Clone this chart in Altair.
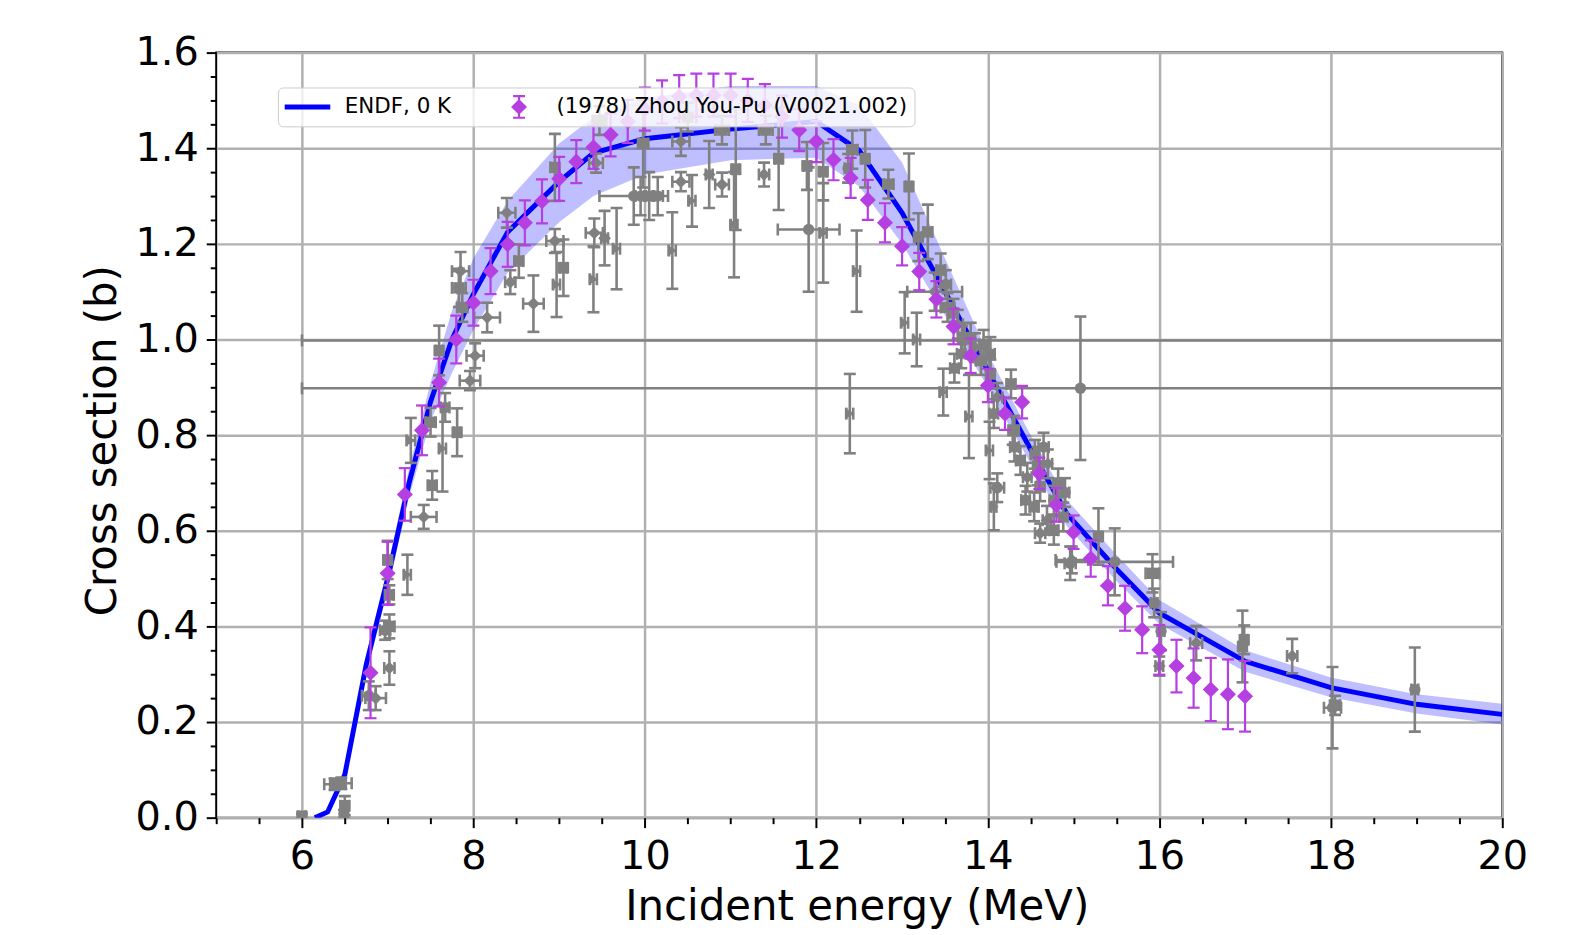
import altair as alt
import pandas as pd

# ---------------- ENDF evaluation: line and uncertainty band ----------------
endf_e = [6.15, 6.3, 6.5, 6.75, 7.0, 7.25, 7.5, 7.75, 8.0, 8.4, 9.0, 9.4, 10.0, 11.0,
          12.0, 12.5, 13.0, 13.5, 14.0, 14.5, 14.92, 15.5, 16.0, 17.0, 18.0, 19.0, 20.0]
endf_xs = [0.0, 0.012, 0.09, 0.32, 0.50, 0.70, 0.87, 1.0, 1.095, 1.225, 1.33, 1.39, 1.42, 1.44,
           1.456, 1.395, 1.265, 1.10, 0.935, 0.77, 0.636, 0.52, 0.428, 0.327, 0.272, 0.237, 0.216]
endf_lo = [0.0, 0.008, 0.078, 0.30, 0.475, 0.67, 0.83, 0.93, 1.02, 1.14, 1.245, 1.30, 1.345, 1.375,
           1.38, 1.32, 1.20, 1.05, 0.90, 0.74, 0.61, 0.495, 0.405, 0.305, 0.252, 0.218, 0.195]
endf_hi = [0.0, 0.016, 0.10, 0.34, 0.525, 0.73, 0.91, 1.06, 1.17, 1.29, 1.41, 1.465, 1.505, 1.53,
           1.53, 1.49, 1.37, 1.17, 0.97, 0.80, 0.665, 0.55, 0.455, 0.35, 0.293, 0.258, 0.238]

# ---------------- (1978) Zhou You-Pu (V0021.002) ----------------
zhou_e = [6.8, 7.0, 7.2, 7.4, 7.6, 7.8, 8.0, 8.2, 8.4, 8.6, 8.8, 9.0, 9.2, 9.4, 9.6, 9.8,
          10.0, 10.2, 10.4, 10.6, 10.8, 11.0, 11.2, 11.4, 11.6, 11.8, 12.0, 12.2, 12.4, 12.6,
          12.8, 13.0, 13.2, 13.4, 13.6, 13.8, 14.0, 14.2, 14.4, 14.6, 14.8, 15.0, 15.2, 15.4,
          15.6, 15.8, 16.0, 16.2, 16.4, 16.6, 16.8, 17.0]
zhou_xs = [0.303, 0.511, 0.676, 0.81, 0.91, 1.0, 1.077, 1.143, 1.199, 1.244, 1.289, 1.336,
           1.372, 1.402, 1.428, 1.456, 1.482, 1.497, 1.508, 1.511, 1.511, 1.511, 1.50, 1.49,
           1.466, 1.438, 1.414, 1.376, 1.338, 1.292, 1.244, 1.195, 1.142, 1.084, 1.027, 0.966,
           0.904, 0.845, 0.869, 0.72, 0.654, 0.597, 0.542, 0.485, 0.438, 0.393, 0.351, 0.317,
           0.292, 0.268, 0.258, 0.254]
zhou_dxs = [0.095, 0.066, 0.055, 0.052, 0.05, 0.05, 0.048, 0.048, 0.047, 0.047, 0.046, 0.046,
            0.045, 0.045, 0.045, 0.045, 0.045, 0.045, 0.045, 0.045, 0.045, 0.045, 0.045, 0.044,
            0.044, 0.044, 0.043, 0.043, 0.042, 0.042, 0.041, 0.04, 0.039, 0.038, 0.037, 0.036,
            0.035, 0.034, 0.034, 0.033, 0.035, 0.035, 0.038, 0.041, 0.047, 0.049, 0.052, 0.055,
            0.062, 0.066, 0.073, 0.074]

# ---------------- other EXFOR data sets (grey) ----------------
# square markers
sq_e = [6.00, 6.38, 6.46, 6.50, 7.02, 7.02, 7.00, 7.52, 7.81, 7.50, 7.60, 7.87, 7.83, 8.53,
        9.05, 9.98, 8.95, 9.47, 10.50, 11.56, 11.06, 10.90, 11.41, 11.89, 12.08, 12.42, 12.57,
        12.84, 13.08, 13.30, 13.19, 13.45, 13.53, 13.73, 13.92, 14.03, 14.27, 14.31, 14.38,
        14.61, 14.54, 14.77, 14.82, 15.29, 15.92, 16.99, 16.97, 18.05]
sq_xs = [0.003, 0.070, 0.072, 0.025, 0.400, 0.466, 0.539, 0.695, 0.806, 0.827, 0.977, 1.067,
         1.108, 1.164, 1.150, 1.410, 1.360, 1.458, 1.465, 1.378, 1.356, 1.438, 1.438, 1.363,
         1.351, 1.397, 1.378, 1.325, 1.320, 1.225, 1.214, 1.145, 1.067, 1.004, 0.956, 0.928,
         0.907, 0.810, 0.747, 0.692, 0.650, 0.601, 0.700, 0.588, 0.511, 0.372, 0.358, 0.235]
sq_de = [0.04, 0.12, 0.12, 0.05, 0.06, 0.05, 0.04, 0.05, 0.04, 0.06, 0.04, 0.06, 0.08, 0.05,
         0.04, 0.06, 0.05, 0.08, 0.10, 0.04, 0.04, 0.08, 0.08, 0.04, 0.04, 0.06, 0.04, 0.06,
         0.04, 0.05, 0.04, 0.05, 0.08, 0.06, 0.06, 0.05, 0.05, 0.05, 0.05, 0.05, 0.05, 0.05,
         0.06, 0.04, 0.08, 0.04, 0.04, 0.06]
sq_dxs = [0.005, 0.012, 0.012, 0.020, 0.025, 0.020, 0.040, 0.030, 0.050, 0.030, 0.052, 0.030,
          0.040, 0.035, 0.059, 0.092, 0.070, 0.030, 0.030, 0.107, 0.127, 0.030, 0.030, 0.050,
          0.060, 0.040, 0.060, 0.030, 0.069, 0.057, 0.050, 0.035, 0.030, 0.030, 0.030, 0.030,
          0.030, 0.030, 0.030, 0.030, 0.030, 0.030, 0.030, 0.059, 0.040, 0.030, 0.075, 0.020]

# diamond markers
dm_e = [6.86, 7.02, 7.42, 7.96, 8.02, 8.16, 7.85, 8.39, 8.43, 8.70, 8.95, 9.41, 9.53, 9.43,
        10.42, 10.42, 10.75, 10.90, 11.39, 13.38, 13.65, 13.85, 14.11, 14.29, 14.46, 14.69,
        14.61, 14.98, 16.43, 17.55, 14.70, 14.58, 16.00]
dm_xs = [0.250, 0.313, 0.629, 0.914, 0.966, 1.046, 1.143, 1.265, 1.120, 1.075, 1.206, 1.223,
         1.212, 1.369, 1.330, 1.414, 1.345, 1.324, 1.345, 1.100, 1.032, 0.983, 0.879, 0.810,
         0.712, 0.622, 0.595, 0.539, 0.365, 0.338, 0.740, 0.735, 0.317]
dm_de = [0.12, 0.06, 0.15, 0.12, 0.10, 0.15, 0.10, 0.10, 0.06, 0.12, 0.10, 0.10, 0.04, 0.08,
         0.10, 0.10, 0.04, 0.08, 0.06, 0.32, 0.06, 0.06, 0.06, 0.05, 0.05, 0.05, 0.06, 0.19,
         0.07, 0.06, 0.05, 0.05, 0.045]
dm_dxs = [0.025, 0.035, 0.025, 0.020, 0.026, 0.031, 0.040, 0.031, 0.025, 0.059, 0.025, 0.030,
          0.057, 0.020, 0.020, 0.030, 0.070, 0.025, 0.025, 0.040, 0.030, 0.030, 0.030, 0.030,
          0.030, 0.030, 0.020, 0.028, 0.036, 0.036, 0.030, 0.040, 0.020]

# right-pointing triangle markers
tr_e = [7.64, 7.27, 7.23, 8.97, 9.40, 9.67, 10.32, 11.04, 12.47, 12.39, 13.03, 13.17, 13.48,
        13.78, 14.02, 14.07, 12.08, 10.55]
tr_xs = [0.772, 0.789, 0.508, 1.115, 1.126, 1.190, 1.186, 1.240, 1.143, 0.845, 1.035, 1.000,
         0.890, 0.839, 0.768, 0.650, 1.223, 1.290]
tr_de = [0.04, 0.05, 0.04, 0.04, 0.04, 0.04, 0.04, 0.04, 0.04, 0.04, 0.04, 0.04, 0.04, 0.04,
         0.04, 0.03, 0.04, 0.04]
tr_dxs = [0.090, 0.047, 0.042, 0.068, 0.069, 0.085, 0.080, 0.110, 0.085, 0.083, 0.064, 0.056,
          0.049, 0.087, 0.060, 0.049, 0.104, 0.054]

# circle markers
ci_e = [6.49, 6.78, 6.97, 7.67, 9.87, 9.95, 10.05, 10.15, 11.91, 15.08, 13.70, 13.51, 13.69,
        13.61, 14.03, 14.07, 14.31, 14.65, 14.77, 14.44, 14.88, 14.11, 14.96, 15.48, 15.94,
        16.02, 18.02, 18.98, 13.60, 13.80, 13.95, 14.55, 14.90, 12.37]
ci_xs = [0.008, 0.255, 0.392, 0.858, 1.300, 1.300, 1.300, 1.300, 1.230, 0.898, 0.998, 1.115,
         0.970, 0.940, 0.970, 0.845, 0.775, 0.775, 0.664, 0.664, 0.629, 0.690, 0.532, 0.535,
         0.449, 0.390, 0.230, 0.268, 1.055, 1.000, 0.990, 0.760, 0.680, 1.358]
ci_de = [0.04, 0.08, 0.06, 0.05, 0.40, 0.06, 0.06, 0.06, 0.36, 9.08, 7.70, 0.06, 0.05, 0.05,
         0.05, 0.05, 0.05, 0.06, 0.05, 0.05, 0.05, 0.08, 0.065, 0.68, 0.04, 0.04, 0.10, 0.04,
         0.05, 0.05, 0.05, 0.05, 0.05, 0.04]
ci_dxs = [0.008, 0.030, 0.020, 0.030, 0.060, 0.040, 0.050, 0.040, 0.130, 0.150, 0.030, 0.030,
          0.030, 0.030, 0.035, 0.030, 0.030, 0.030, 0.030, 0.030, 0.030, 0.030, 0.035, 0.070,
          0.030, 0.040, 0.085, 0.088, 0.030, 0.035, 0.030, 0.030, 0.030, 0.030]

# ---------------- axes ----------------
x_ticks = [5.0, 5.5, 6.0, 6.5, 7.0, 7.5, 8.0, 8.5, 9.0, 9.5, 10.0, 10.5, 11.0, 11.5, 12.0,
           12.5, 13.0, 13.5, 14.0, 14.5, 15.0, 15.5, 16.0, 16.5, 17.0, 17.5, 18.0, 18.5, 19.0,
           19.5, 20.0]
y_ticks = [0.0, 0.05, 0.1, 0.15, 0.2, 0.25, 0.3, 0.35, 0.4, 0.45, 0.5, 0.55, 0.6, 0.65, 0.7,
           0.75, 0.8, 0.85, 0.9, 0.95, 1.0, 1.05, 1.1, 1.15, 1.2, 1.25, 1.3, 1.35, 1.4, 1.45,
           1.5, 1.55, 1.6]

ENDF_LBL = "ENDF, 0 K"
ZHOU_LBL = "(1978) Zhou You-Pu (V0021.002)"

FONT = "DejaVu Sans"
BLUE = "#0000ff"
MAG = "#b63fe2"
GREY = "#808080"
GRID = "#b0b0b0"

X_MAJOR = "datum.value % 2 === 0"
Y_MAJOR = "abs(datum.value * 5 - round(datum.value * 5)) < 0.000001"

x_axis = alt.Axis(
    values=x_ticks, title="Incident energy (MeV)",
    labelExpr=f"{X_MAJOR} ? format(datum.value, 'd') : ''",
    labelOverlap=False, labelFlush=False, labelFont=FONT, labelFontSize=40,
    labelColor="black", labelPadding=9,
    titleFont=FONT, titleFontSize=42, titleFontWeight="normal", titleColor="black",
    titleX=643, titleY=102, titleBaseline="alphabetic", titleAlign="center",
    tickColor="black", tickWidth=2,
    tickSize={"condition": {"test": X_MAJOR, "value": 10}, "value": 6},
    grid=True, gridColor=GRID, gridWidth=2.5,
    gridOpacity={"condition": {"test": X_MAJOR, "value": 1}, "value": 0},
    domain=False,
)
y_axis = alt.Axis(
    values=y_ticks, title="Cross section (b)",
    labelExpr=f"{Y_MAJOR} ? format(datum.value, '.1f') : ''",
    labelOverlap=False, labelFlush=False, labelFont=FONT, labelFontSize=40,
    labelColor="black", labelPadding=8,
    titleFont=FONT, titleFontSize=42, titleFontWeight="normal", titleColor="black",
    titleX=-101, titleY=389, titleBaseline="alphabetic", titleAlign="center", titleAngle=270,
    tickColor="black", tickWidth=2,
    tickSize={"condition": {"test": Y_MAJOR, "value": 10}, "value": 6},
    grid=True, gridColor=GRID, gridWidth=2.5,
    gridOpacity={"condition": {"test": Y_MAJOR, "value": 1}, "value": 0},
    domain=False,
)
XS = alt.Scale(domain=[5, 20], nice=False, zero=False)
YS = alt.Scale(domain=[0, 1.6], nice=False, zero=False)


def X(f):
    return alt.X(f, type="quantitative", scale=XS, axis=x_axis)


def Y(f):
    return alt.Y(f, type="quantitative", scale=YS, axis=y_axis)


# ---------------- tables ----------------
endf_df = pd.DataFrame({"e": endf_e, "xs": endf_xs, "lo": endf_lo, "hi": endf_hi})
zhou_df = pd.DataFrame({"e": zhou_e, "xs": zhou_xs, "dxs": zhou_dxs})


def grey(e, xs, de, dxs):
    return pd.DataFrame({"e": e, "xs": xs, "de": de, "dxs": dxs})


grey_sets = [
    (grey(sq_e, sq_xs, sq_de, sq_dxs), "square", 130),
    (grey(dm_e, dm_xs, dm_de, dm_dxs), "diamond", 160),
    (grey(tr_e, tr_xs, tr_de, tr_dxs), "triangle-right", 130),
    (grey(ci_e, ci_xs, ci_de, ci_dxs), "circle", 130),
]
grey_all = pd.concat([g for g, _, _ in grey_sets], ignore_index=True)

# ---------------- layers ----------------
band = alt.Chart(endf_df).mark_area(color=BLUE, opacity=0.25, clip=True).encode(
    x=X("e"), y=Y("lo"), y2=alt.Y2("hi"))
line = alt.Chart(endf_df).mark_line(color=BLUE, strokeWidth=5, clip=True).encode(
    x=X("e"), y=Y("xs"))

gb = alt.Chart(grey_all).transform_calculate(
    e0="datum.e - datum.de", e1="datum.e + datum.de",
    y0="datum.xs - datum.dxs", y1="datum.xs + datum.dxs")
g_xbar = gb.mark_rule(color=GREY, strokeWidth=2.6, clip=True).encode(
    x=X("e0:Q"), x2=alt.X2("e1:Q"), y=Y("xs"))
g_ybar = gb.mark_rule(color=GREY, strokeWidth=2.6, clip=True).encode(
    x=X("e"), y=Y("y0:Q"), y2=alt.Y2("y1:Q"))
cap_h = dict(orient="horizontal", size=12, thickness=2.6, color=GREY, opacity=1, clip=True)
cap_v = dict(orient="vertical", size=12, thickness=2.6, color=GREY, opacity=1, clip=True)
g_c1 = gb.mark_tick(**cap_h).encode(x=X("e"), y=Y("y0:Q"))
g_c2 = gb.mark_tick(**cap_h).encode(x=X("e"), y=Y("y1:Q"))
g_c3 = gb.mark_tick(**cap_v).encode(x=X("e0:Q"), y=Y("xs"))
g_c4 = gb.mark_tick(**cap_v).encode(x=X("e1:Q"), y=Y("xs"))
g_pts = [
    alt.Chart(df).mark_point(shape=shp, filled=True, size=sz, color=GREY, opacity=1,
                             strokeWidth=0, clip=True).encode(x=X("e"), y=Y("xs"))
    for df, shp, sz in grey_sets
]

zb = alt.Chart(zhou_df).transform_calculate(
    y0="datum.xs - datum.dxs", y1="datum.xs + datum.dxs")
z_bar = zb.mark_rule(color=MAG, strokeWidth=2.2, clip=True).encode(
    x=X("e"), y=Y("y0:Q"), y2=alt.Y2("y1:Q"))
zcap = dict(orient="horizontal", size=12, thickness=2.2, color=MAG, opacity=1, clip=True)
z_c1 = zb.mark_tick(**zcap).encode(x=X("e"), y=Y("y0:Q"))
z_c2 = zb.mark_tick(**zcap).encode(x=X("e"), y=Y("y1:Q"))
z_pts = alt.Chart(zhou_df).mark_point(shape="diamond", filled=True, size=260, color=MAG,
                                      opacity=1, strokeWidth=0, clip=True).encode(
    x=X("e"), y=Y("xs"))

# ---------------- legend (symbols only, no drawn data) ----------------
# both symbols share a 46 px box so that the two entries line up
ENDF_SYM = "M-1,-0.11L1,-0.11L1,0.11L-1,0.11Z"
ZHOU_SYM = ("M-0.348,0L0,-0.348L0.348,0L0,0.348Z"
            "M-0.048,-0.522L0.048,-0.522L0.048,0.522L-0.048,0.522Z"
            "M-0.26,-0.522L0.26,-0.522L0.26,-0.426L-0.26,-0.426Z"
            "M-0.26,0.426L0.26,0.426L0.26,0.522L-0.26,0.522Z")
leg_dom = [ENDF_LBL, ZHOU_LBL]
leg = alt.Legend(
    title=None, orient="none", legendX=62, legendY=35, direction="horizontal",
    labelFont=FONT, labelFontSize=21.5, labelColor="black", labelOffset=14.5, labelLimit=1000,
    columnPadding=44.5, padding=6.5, clipHeight=26, fillColor="rgba(255,255,255,0.8)",
    strokeColor="#cccccc", cornerRadius=5, zindex=1, symbolStrokeWidth=0, symbolOpacity=1,
    symbolSize=2116,
)
leg_df = pd.DataFrame({"series": leg_dom, "e": [None, None], "xs": [None, None]})
legend_layer = alt.Chart(leg_df).mark_point(filled=True, opacity=1, size=2116,
                                            clip=True).encode(
    x=X("e"), y=Y("xs"),
    color=alt.Color("series:N", scale=alt.Scale(domain=leg_dom, range=[BLUE, MAG]), legend=leg),
    shape=alt.Shape("series:N", scale=alt.Scale(domain=leg_dom, range=[ENDF_SYM, ZHOU_SYM]),
                    legend=leg),
)

chart = alt.layer(
    band, line, g_xbar, g_ybar, g_c1, g_c2, g_c3, g_c4, *g_pts,
    z_bar, z_c1, z_c2, z_pts, legend_layer,
).properties(
    width=1291, height=768,
    padding={"left": 209, "top": 43, "right": 70, "bottom": 116},
    autosize=alt.AutoSizeParams(type="none"),
    background="white",
).configure_view(stroke="black", strokeWidth=2)

chart.save("out.html", embed_options={"renderer": "svg", "actions": False})
